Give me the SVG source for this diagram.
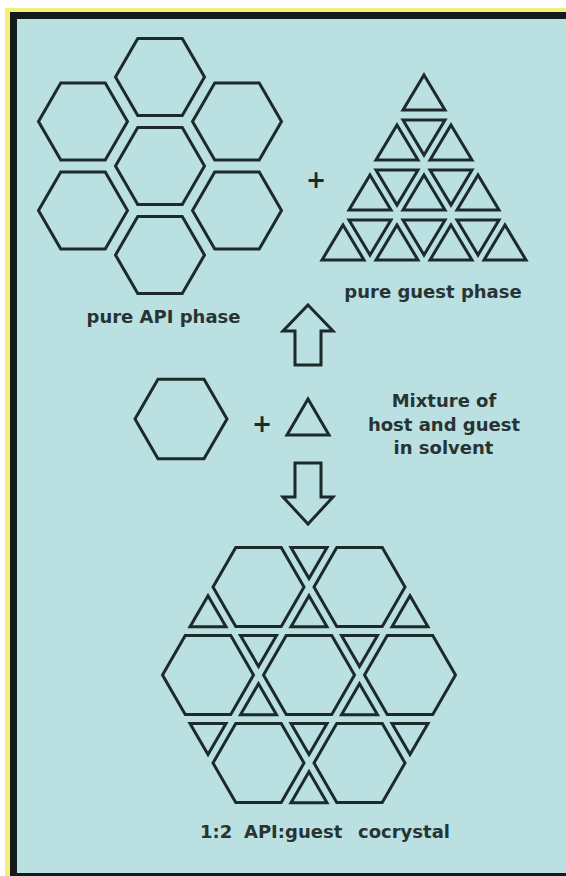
<svg xmlns="http://www.w3.org/2000/svg" xmlns:xlink="http://www.w3.org/1999/xlink" width="566" height="876" viewBox="0 0 566 876">
<style>
.ln{fill:none;stroke:#1c2a2a;stroke-width:3;stroke-linejoin:miter}
.lb{font-family:"DejaVu Sans","Liberation Sans",sans-serif;font-weight:bold;font-size:18px;fill:#283333}
.pl{font-family:"DejaVu Sans","Liberation Sans",sans-serif;font-weight:bold;font-size:24px;fill:#1c2a2a;text-anchor:middle}
</style>
<defs>
<path id="hex" class="ln" d="M-44.5,0 L-22.25,-38.54 L22.25,-38.54 L44.5,0 L22.25,38.54 L-22.25,38.54Z"/>
<path id="hexC" class="ln" d="M-45.5,0 L-22.75,-39.4 L22.75,-39.4 L45.5,0 L22.75,39.4 L-22.75,39.4Z"/>
<path id="gu" class="ln" d="M0,0 L21,35 L-21,35Z"/>
<path id="gd" class="ln" d="M-21,0 L21,0 L0,35Z"/>
<path id="tu" class="ln" d="M0,0 L18,31 L-18,31Z"/>
<path id="td" class="ln" d="M-18,0 L18,0 L0,31Z"/>
</defs>
<rect x="0" y="0" width="566" height="876" fill="#ffffff"/>
<rect x="5" y="8" width="561" height="868" fill="#f3ef78"/>
<rect x="10" y="12" width="556" height="864" fill="#141a1a"/>
<rect x="17" y="19" width="549" height="854" fill="#bae0e2"/>

<g id="pure-api-phase">
<use xlink:href="#hex" x="160" y="77"/>
<use xlink:href="#hex" x="83" y="121.5"/>
<use xlink:href="#hex" x="237" y="121.5"/>
<use xlink:href="#hex" x="160" y="166"/>
<use xlink:href="#hex" x="83" y="210.5"/>
<use xlink:href="#hex" x="237" y="210.5"/>
<use xlink:href="#hex" x="160" y="255"/>
<text class="lb" x="163.5" y="323" text-anchor="middle">pure API phase</text>
</g>

<g id="plus-top">
<text class="pl" x="316" y="188">+</text>
</g>

<g id="pure-guest-phase">
<use xlink:href="#gu" x="424" y="75"/>
<use xlink:href="#gu" x="397" y="125"/>
<use xlink:href="#gu" x="451" y="125"/>
<use xlink:href="#gd" x="424" y="120"/>
<use xlink:href="#gu" x="370" y="175"/>
<use xlink:href="#gu" x="424" y="175"/>
<use xlink:href="#gu" x="478" y="175"/>
<use xlink:href="#gd" x="397" y="170"/>
<use xlink:href="#gd" x="451" y="170"/>
<use xlink:href="#gu" x="343" y="225"/>
<use xlink:href="#gu" x="397" y="225"/>
<use xlink:href="#gu" x="451" y="225"/>
<use xlink:href="#gu" x="505" y="225"/>
<use xlink:href="#gd" x="370" y="220"/>
<use xlink:href="#gd" x="424" y="220"/>
<use xlink:href="#gd" x="478" y="220"/>
<text class="lb" x="433" y="298" text-anchor="middle">pure guest phase</text>
</g>

<g id="mixture">
<path class="ln" d="M135,419 L158,379.2 L204,379.2 L227,419 L204,458.8 L158,458.8Z"/>
<text class="pl" x="262" y="432">+</text>
<path class="ln" d="M308,399 L329,435 L287,435Z"/>
<text class="lb" text-anchor="middle"><tspan x="444" y="407">Mixture of</tspan><tspan x="444" y="431">host and guest</tspan><tspan x="443.5" y="454">in solvent</tspan></text>
</g>

<g id="connectors">
<path class="ln" d="M308,305 L333,331 L321,331 L321,365 L295,365 L295,331 L283,331Z"/>
<path class="ln" d="M295,463 L321,463 L321,497 L333,497 L308,524 L283,497 L295,497Z"/>
</g>

<g id="cocrystal">
<use xlink:href="#hexC" x="258.5" y="587"/>
<use xlink:href="#hexC" x="359.5" y="587"/>
<use xlink:href="#hexC" x="208" y="675"/>
<use xlink:href="#hexC" x="309" y="675"/>
<use xlink:href="#hexC" x="410" y="675"/>
<use xlink:href="#hexC" x="258.5" y="763"/>
<use xlink:href="#hexC" x="359.5" y="763"/>
<use xlink:href="#td" x="309" y="547.4"/>
<use xlink:href="#tu" x="208" y="595.7"/>
<use xlink:href="#tu" x="309" y="595.7"/>
<use xlink:href="#tu" x="410" y="595.7"/>
<use xlink:href="#td" x="258.5" y="635.4"/>
<use xlink:href="#td" x="359.5" y="635.4"/>
<use xlink:href="#tu" x="258.5" y="683.7"/>
<use xlink:href="#tu" x="359.5" y="683.7"/>
<use xlink:href="#td" x="208" y="723.4"/>
<use xlink:href="#td" x="309" y="723.4"/>
<use xlink:href="#td" x="410" y="723.4"/>
<use xlink:href="#tu" x="309" y="771.7"/>
<text class="lb" x="200" y="838">1:2 <tspan x="244">API:guest</tspan> <tspan x="358">cocrystal</tspan></text>
</g>
</svg>
